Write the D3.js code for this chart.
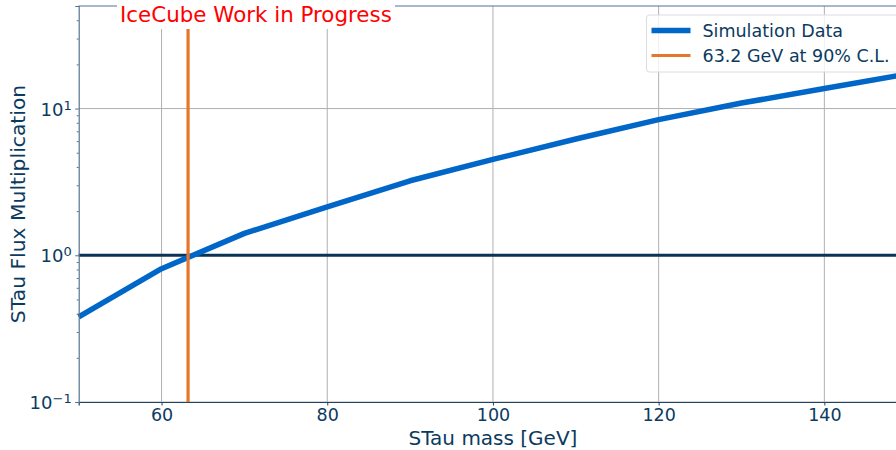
<!DOCTYPE html>
<meta charset="utf-8">
<style type="text/css">
body { margin: 0; background: #fff; }
svg text { font-family: "DejaVu Sans", sans-serif; fill: #0b3a60; }
.grid line { stroke: #b0b0b0; stroke-width: 1; }
.sim { fill: none; stroke: #0066c8; stroke-width: 5.5; stroke-linejoin: round; }
.cl { stroke: #e5762c; stroke-width: 3.2; }
.unity { stroke: #0b3355; stroke-width: 3; }
</style>
<body></body>
<script src="https://d3js.org/d3.v7.min.js"></script>
<script>
// STau mass points [GeV] and flux multiplication
var mass = [50, 60, 70, 80, 90, 100, 110, 120, 130, 140, 150];
var flux = [0.38, 0.81, 1.41, 2.14, 3.22, 4.5, 6.2, 8.4, 10.9, 13.7, 17.2];
var clMass = 63.2;
var xTicks = [60, 80, 100, 120, 140];
var yTicks = [0.1, 1, 10];
var legendLabels = ["Simulation Data", "63.2 GeV at 90% C.L."];

var width = 896, height = 450;
var margin = {top: 6, left: 78.7, bottom: 402};

var x = d3.scaleLinear().domain([50, 150]).range([margin.left, margin.left + 828.5]);
var y = d3.scaleLog().domain([0.1, 50]).range([margin.bottom, margin.top]);

var svg = d3.select("body").append("svg")
    .attr("width", width)
    .attr("height", height);

// grid
var grid = svg.append("g").attr("class", "grid");
grid.selectAll(".gx").data(xTicks).enter().append("line")
    .attr("x1", d => x(d)).attr("x2", d => x(d))
    .attr("y1", y(50)).attr("y2", y(0.1));
grid.selectAll(".gy").data(yTicks).enter().append("line")
    .attr("x1", x(50)).attr("x2", x(150))
    .attr("y1", d => y(d)).attr("y2", d => y(d));

// lines
svg.append("line").attr("class", "unity")
    .attr("x1", x(50)).attr("x2", x(150))
    .attr("y1", y(1)).attr("y2", y(1));

var line = d3.line()
    .x((d, i) => x(mass[i]))
    .y(d => y(d));
svg.append("path").datum(flux).attr("class", "sim").attr("d", line);

svg.append("line").attr("class", "cl")
    .attr("x1", x(clMass)).attr("x2", x(clMass))
    .attr("y1", y(0.1)).attr("y2", y(50));

// axes
var spine = "#56728c";
var xAxis = svg.append("g")
    .attr("transform", "translate(0," + margin.bottom + ")")
    .call(d3.axisBottom(x).tickValues(xTicks).tickSize(3.5).tickPadding(3));
xAxis.select(".domain").attr("stroke", "#1d4466").attr("stroke-width", 1.2);
xAxis.selectAll(".tick line").attr("stroke", "#1d4466");
xAxis.selectAll("text").style("font-size", "17.5px").attr("fill", "#0b3a60");

var minor = [];
[0.1, 1, 10].forEach(function(b) {
    for (var k = 2; k <= 9; k++) if (b * k <= 50) minor.push(b * k);
});
var yMinor = svg.append("g")
    .attr("transform", "translate(" + margin.left + ",0)")
    .call(d3.axisLeft(y).tickValues(minor).tickSize(2).tickFormat(""));
yMinor.select(".domain").remove();
yMinor.selectAll(".tick line").attr("stroke", spine);

var supMap = {"-1": "\u22121", "0": "0", "1": "1"};
var yAxis = svg.append("g")
    .attr("transform", "translate(" + margin.left + ",0)")
    .call(d3.axisLeft(y).tickValues(yTicks).tickSize(3.5).tickPadding(5).tickFormat(""));
yAxis.select(".domain").attr("stroke", spine).attr("stroke-width", 1.2);
yAxis.selectAll(".tick line").attr("stroke", spine);
yAxis.selectAll(".tick").append("text")
    .attr("x", -7).attr("dy", "0.36em")
    .attr("text-anchor", "end")
    .style("font-size", "18px")
    .each(function(d) {
        var t = d3.select(this);
        t.append("tspan").text("10");
        t.append("tspan").attr("dy", "-0.45em").style("font-size", "13px")
            .text(supMap[String(Math.round(Math.log10(d)))]);
    });

// top spine
svg.append("line")
    .attr("x1", x(50)).attr("x2", width)
    .attr("y1", margin.top).attr("y2", margin.top)
    .attr("stroke", spine).attr("stroke-width", 1.2);

// axis labels
svg.append("text")
    .attr("x", x(100)).attr("y", 444.5)
    .attr("text-anchor", "middle")
    .style("font-size", "20px")
    .text("STau mass [GeV]");
svg.append("text")
    .attr("transform", "translate(25," + ((margin.top + margin.bottom) / 2) + ") rotate(-90)")
    .attr("text-anchor", "middle")
    .style("font-size", "20.3px")
    .text("STau Flux Multiplication");

// title with white box
svg.append("rect")
    .attr("x", 117).attr("y", 0).attr("width", 278).attr("height", 29)
    .attr("fill", "#fff");
svg.append("text")
    .attr("x", 120).attr("y", 22)
    .style("font-size", "21.4px")
    .style("fill", "#ff0000")
    .text("IceCube Work in Progress");

// legend
var lg = svg.append("g").attr("transform", "translate(646.5,15)");
lg.append("rect")
    .attr("width", 270).attr("height", 57).attr("rx", 3)
    .attr("fill", "#fff").attr("fill-opacity", 0.8)
    .attr("stroke", "#dcdcdc");
var legendStyle = [{c: "#0066c8", w: 5.5}, {c: "#e5762c", w: 3.2}];
legendLabels.forEach(function(lab, i) {
    var yy = 15.5 + i * 25;
    lg.append("line")
        .attr("x1", 5).attr("x2", 44)
        .attr("y1", yy).attr("y2", yy)
        .attr("stroke", legendStyle[i].c).attr("stroke-width", legendStyle[i].w);
    lg.append("text")
        .attr("x", 56).attr("y", yy).attr("dy", "0.36em")
        .style("font-size", "17.5px")
        .text(lab);
});
</script>
